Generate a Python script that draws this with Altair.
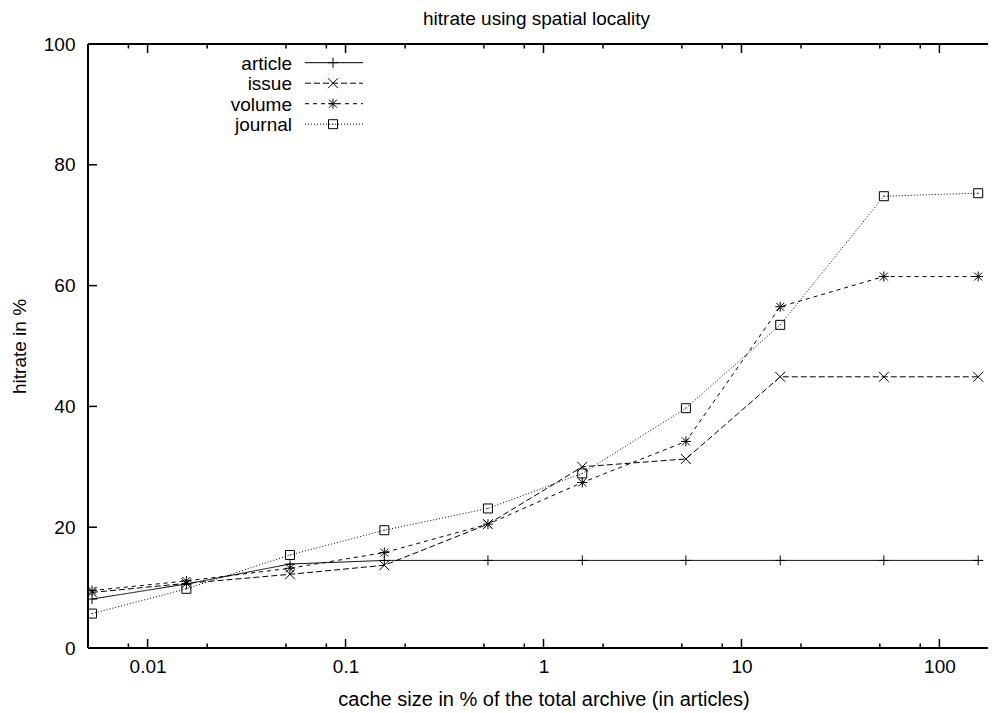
import altair as alt
import pandas as pd

# ---- data ----
cache_size = [0.00524, 0.0157, 0.0524, 0.157, 0.524, 1.57, 5.24, 15.7, 52.4, 157]
article = [8.1, 10.6, 13.9, 14.5, 14.5, 14.5, 14.5, 14.5, 14.5, 14.5]
issue = [9.2, 10.7, 12.2, 13.7, 20.5, 30.0, 31.3, 44.9, 44.9, 44.9]
volume = [9.5, 11.1, 13.2, 15.8, 20.5, 27.4, 34.2, 56.5, 61.5, 61.5]
journal = [5.7, 9.8, 15.4, 19.5, 23.1, 28.9, 39.7, 53.5, 74.8, 75.3]
series = ["article", "issue", "volume", "journal"]

x_major = [0.01, 0.1, 1, 10, 100]
x_minor = [0.008, 0.02, 0.05, 0.08, 0.2, 0.5, 0.8, 2, 5, 8, 20, 50, 80]
y_labels = [0, 20, 40, 60, 80, 100]
y_ticks = [20, 40, 60, 80]

FONT = "Liberation Sans"
FS = 19
W, H = 900, 604
XR = 911  # full plot range (right border lies beyond the picture)

rows = []
for name, vals in zip(series, [article, issue, volume, journal]):
    for x, v in zip(cache_size, vals):
        rows.append({"series": name, "size": x, "hit": v})
df = pd.DataFrame(rows)

xscale = alt.Scale(type="log", domain=[0.005, 200], range=[0, XR], nice=False)
yscale = alt.Scale(domain=[0, 100], nice=False, zero=True)

x_axis = alt.Axis(
    values=x_major, format="~g", ticks=False, tickSize=0, domain=False, grid=False,
    labelPadding=9, labelFlush=False, labelOverlap=False,
    title="cache size in % of the total archive (in articles)",
    titleX=XR / 2, titleY=57, titleBaseline="alphabetic", titleAlign="center",
    titleFontSize=20,
)
y_axis = alt.Axis(
    values=y_labels, ticks=False, tickSize=0, domain=False, grid=False,
    labelPadding=13, labelFlush=False, labelOverlap=False,
    title="hitrate in %", titleX=-63, titleY=H / 2, titleAngle=270,
    titleBaseline="alphabetic", titleAlign="center",
)

X = alt.X("size:Q", scale=xscale, axis=x_axis)
Y = alt.Y("hit:Q", scale=yscale, axis=y_axis)

shape_paths = [
    "M-1,0L1,0M0,-1L0,1",
    "M-1,-1L1,1M-1,1L1,-1",
    "M-1,0L1,0M0,-1L0,1M-0.8,-0.8L0.8,0.8M-0.8,0.8L0.8,-0.8",
    "M-0.9,-0.9L0.9,-0.9L0.9,0.9L-0.9,0.9ZM-0.1,0L0.1,0",
]
dashes = [[1, 0], [6, 3], [4, 4], [1, 2]]

shape_enc = alt.Shape("series:N", scale=alt.Scale(domain=series, range=shape_paths), legend=None)
dash_enc = alt.StrokeDash("series:N", scale=alt.Scale(domain=series, range=dashes), legend=None)

lines = alt.Chart(df).mark_line(color="black", strokeWidth=1).encode(
    x=X, y=Y, strokeDash=dash_enc
)
points = alt.Chart(df).mark_point(
    filled=False, color="black", strokeWidth=1, size=100, opacity=1
).encode(x=X, y=Y, shape=shape_enc)

# ---- gnuplot-style key, top left inside the plot ----
leg = pd.DataFrame({"series": series, "idx": list(range(len(series)))})
leg_base = alt.Chart(leg).transform_calculate(
    hit="100 - (18.7 + 20.5 * datum.idx) * 100 / 604"
)
leg_text = leg_base.mark_text(
    align="right", baseline="middle", font=FONT, fontSize=FS, color="black", dy=1
).encode(x=alt.value(204), y=Y, text="series:N")
leg_line = leg_base.mark_rule(color="black", strokeWidth=1).encode(
    x=alt.value(217), x2=alt.value(275), y=Y, strokeDash=dash_enc
)
leg_pt = leg_base.mark_point(
    filled=False, color="black", strokeWidth=1, size=100, opacity=1
).encode(x=alt.value(245), y=Y, shape=shape_enc)

# ---- inward ticks on all four sides ----
def xticks(vals, length, top):
    c = alt.Chart(pd.DataFrame({"size": vals})).mark_rule(color="black", strokeWidth=1.5)
    if top:
        return c.encode(x=X, y=alt.value(0), y2=alt.value(length))
    return c.encode(x=X, y=alt.value(H), y2=alt.value(H - length))

def yticks(vals, x0, x1):
    return alt.Chart(pd.DataFrame({"hit": vals})).mark_rule(color="black", strokeWidth=1.5).encode(
        y=Y, x=alt.value(x0), x2=alt.value(x1)
    )

tick_layers = [
    xticks(x_major, 9, False), xticks(x_major, 9, True),
    xticks(x_minor, 4.5, False), xticks(x_minor, 4.5, True),
    yticks(y_ticks, 0, 9), yticks(y_ticks, XR - 9, XR),
]

one = alt.Data(values=[{}])
frame = [
    alt.Chart(one).mark_rule(color="black", strokeWidth=2).encode(x=alt.value(0), x2=alt.value(XR), y=alt.value(0)),
    alt.Chart(one).mark_rule(color="black", strokeWidth=2).encode(x=alt.value(0), x2=alt.value(XR), y=alt.value(H)),
    alt.Chart(one).mark_rule(color="black", strokeWidth=2).encode(x=alt.value(0), y=alt.value(0), y2=alt.value(H)),
]

chart = alt.layer(
    lines, points, leg_line, leg_pt, leg_text, *tick_layers, *frame
).properties(
    width=W, height=H,
    autosize=alt.AutoSizeParams(type="none"),
    padding={"left": 80, "top": 36, "right": 0, "bottom": 65},
    title=alt.TitleParams(
        "hitrate using spatial locality", anchor="start", frame="group", dx=335,
        offset=-9, baseline="alphabetic", font=FONT, fontSize=FS, fontWeight="normal", color="black",
    ),
).configure_view(stroke=None).configure_axis(
    labelFont=FONT, labelFontSize=FS, labelColor="black",
    titleFont=FONT, titleFontSize=FS, titleColor="black", titleFontWeight="normal",
)

chart.save("out.html", embed_options={"renderer": "svg", "actions": False})
